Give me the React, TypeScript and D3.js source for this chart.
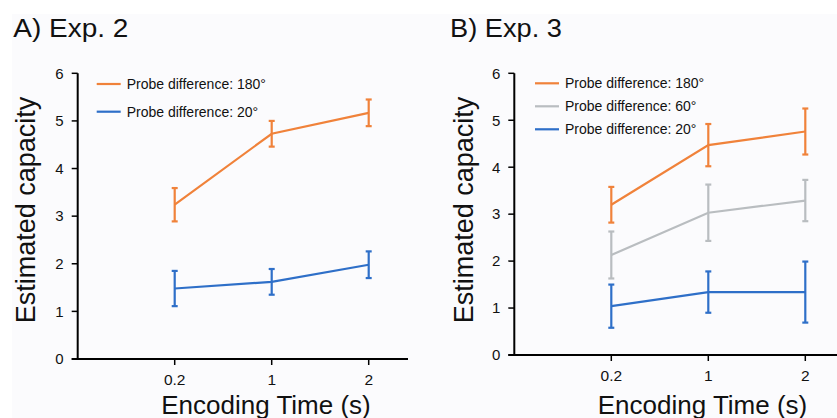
import React from "react";
import * as d3 from "d3";

const categories = ["0.2", "1", "2"];
const yTicks = [0, 1, 2, 3, 4, 5, 6];

const expA_labels = ["Probe difference: 180°", "Probe difference: 20°"];
const expA_180 = [3.24, 4.73, 5.17];
const expA_180_err = [0.35, 0.27, 0.28];
const expA_20 = [1.48, 1.62, 1.98];
const expA_20_err = [0.37, 0.27, 0.28];

const expB_labels = ["Probe difference: 180°", "Probe difference: 60°", "Probe difference: 20°"];
const expB_180 = [3.2, 4.47, 4.76];
const expB_180_err = [0.38, 0.45, 0.49];
const expB_60 = [2.13, 3.03, 3.29];
const expB_60_err = [0.5, 0.6, 0.44];
const expB_20 = [1.04, 1.34, 1.34];
const expB_20_err = [0.46, 0.44, 0.65];

const ORANGE = "#f0823a";
const GRAY = "#b9bdc0";
const BLUE = "#2e6fc8";
const FONT = "Liberation Sans, Arial, sans-serif";

type Series = { label: string; values: number[]; errs: number[]; color: string };

type PanelProps = {
  title: string;
  titleX: number;
  titleW: number;
  axisX: number;
  y0: number;
  y6: number;
  xEnd: number;
  yLabelX: number;
  xLabelX: number;
  legendX: number;
  legendY: number;
  legendStep: number;
  series: Series[];
};

function Panel(p: PanelProps) {
  const step = 97;
  const x = d3.scaleLinear().domain([0, 1]).range([p.axisX, p.axisX + step]);
  const y = d3.scaleLinear().domain([0, 6]).range([p.y0, p.y6]);
  const line = d3
    .line<number>()
    .x((_, i) => x(i + 1))
    .y((v) => y(v));
  const cap = 3;
  const drawOrder = [...p.series].reverse();
  return (
    <g>
      <text
        x={p.titleX}
        y={36.7}
        fontFamily={FONT}
        fontSize={26}
        fill="#111"
        textLength={p.titleW}
        lengthAdjust="spacingAndGlyphs"
      >
        {p.title}
      </text>
      <line x1={p.axisX} x2={p.axisX} y1={y(6)} y2={y(0) + 1} stroke="#000" strokeWidth={2} />
      <line x1={p.axisX - 6} x2={p.xEnd} y1={y(0)} y2={y(0)} stroke="#000" strokeWidth={2} />
      {yTicks.map((t) => (
        <g key={t}>
          <line x1={p.axisX - 6} x2={p.axisX} y1={y(t)} y2={y(t)} stroke="#000" strokeWidth={1.5} />
          <text
            x={p.axisX - 14}
            y={y(t) + 5.3}
            textAnchor="end"
            fontFamily={FONT}
            fontSize={15}
            fill="#111"
          >
            {t}
          </text>
        </g>
      ))}
      {categories.map((c, i) => (
        <g key={c}>
          <line x1={x(i + 1)} x2={x(i + 1)} y1={y(0)} y2={y(0) + 6} stroke="#000" strokeWidth={1.5} />
          <text
            x={x(i + 1)}
            y={y(0) + 25.5}
            textAnchor="middle"
            fontFamily={FONT}
            fontSize={15.5}
            fill="#111"
          >
            {c}
          </text>
        </g>
      ))}
      <text
        x={p.xLabelX}
        y={414}
        textAnchor="middle"
        fontFamily={FONT}
        fontSize={26}
        fill="#111"
      >
        Encoding Time (s)
      </text>
      <text
        transform={`translate(${p.yLabelX},210) rotate(-90)`}
        textAnchor="middle"
        fontFamily={FONT}
        fontSize={27}
        fill="#111"
      >
        Estimated capacity
      </text>
      {drawOrder.map((s) => (
        <g key={s.label}>
          <path d={line(s.values) || ""} fill="none" stroke={s.color} strokeWidth={2.2} />
          {s.values.map((v, i) => (
            <g key={i} stroke={s.color} strokeWidth={2.2}>
              <line x1={x(i + 1)} x2={x(i + 1)} y1={y(v + s.errs[i])} y2={y(v - s.errs[i])} />
              <line x1={x(i + 1) - cap} x2={x(i + 1) + cap} y1={y(v + s.errs[i])} y2={y(v + s.errs[i])} />
              <line x1={x(i + 1) - cap} x2={x(i + 1) + cap} y1={y(v - s.errs[i])} y2={y(v - s.errs[i])} />
            </g>
          ))}
        </g>
      ))}
      {p.series.map((s, i) => (
        <g key={s.label}>
          <line
            x1={p.legendX}
            x2={p.legendX + 24}
            y1={p.legendY + i * p.legendStep}
            y2={p.legendY + i * p.legendStep}
            stroke={s.color}
            strokeWidth={2.2}
          />
          <text
            x={p.legendX + 30}
            y={p.legendY + i * p.legendStep + 4.8}
            fontFamily={FONT}
            fontSize={14}
            fill="#111"
          >
            {s.label}
          </text>
        </g>
      ))}
    </g>
  );
}

export default function App() {
  const seriesA: Series[] = [
    { label: expA_labels[0], values: expA_180, errs: expA_180_err, color: ORANGE },
    { label: expA_labels[1], values: expA_20, errs: expA_20_err, color: BLUE },
  ];
  const seriesB: Series[] = [
    { label: expB_labels[0], values: expB_180, errs: expB_180_err, color: ORANGE },
    { label: expB_labels[1], values: expB_60, errs: expB_60_err, color: GRAY },
    { label: expB_labels[2], values: expB_20, errs: expB_20_err, color: BLUE },
  ];
  return (
    <svg
      width={837}
      height={418}
      style={{ position: "absolute", left: 0, top: 0 }}
      xmlns="http://www.w3.org/2000/svg"
    >
      <rect x={0} y={0} width={837} height={418} fill="#ffffff" />
      <rect x={12} y={14} width={825} height={404} fill="#fbfbfd" />
      <Panel
        title="A) Exp. 2"
        titleX={13.3}
        titleW={115}
        axisX={77.7}
        y0={359}
        y6={73.3}
        xEnd={408}
        yLabelX={34.5}
        xLabelX={266}
        legendX={96.7}
        legendY={84}
        legendStep={27.7}
        series={seriesA}
      />
      <Panel
        title="B) Exp. 3"
        titleX={450}
        titleW={112}
        axisX={514.3}
        y0={355}
        y6={73.3}
        xEnd={837}
        yLabelX={472.5}
        xLabelX={702.5}
        legendX={535}
        legendY={83.3}
        legendStep={23}
        series={seriesB}
      />
    </svg>
  );
}
